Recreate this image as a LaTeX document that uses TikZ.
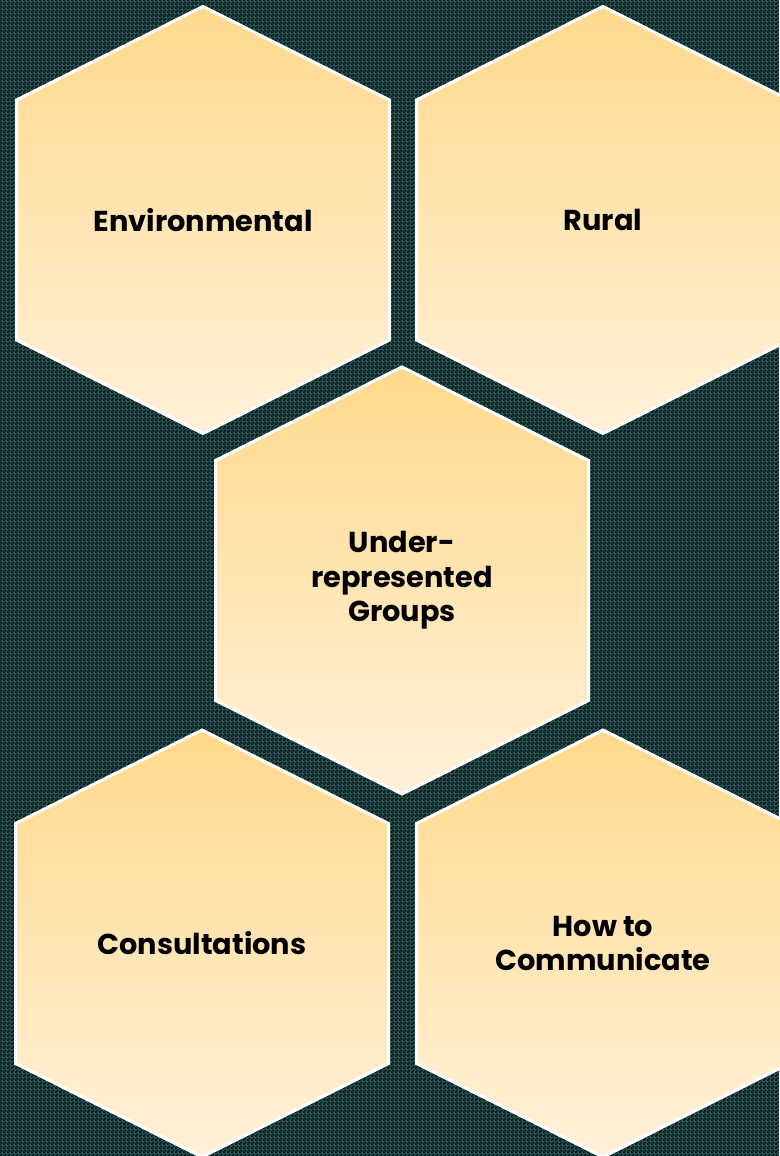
\documentclass[tikz,border=0pt]{standalone}
\usepackage{fontspec}
\setmainfont{Poppins}
\usetikzlibrary{patterns}
\definecolor{bgteal}{RGB}{38,82,82}
\definecolor{hextop}{RGB}{255,217,140}
\definecolor{hexbottom}{RGB}{255,241,218}
\pgfdeclarepatternformonly{finechecker}{\pgfpointorigin}{\pgfqpoint{4pt}{4pt}}{\pgfqpoint{4pt}{4pt}}{
	\pgfpathrectangle{\pgfpointorigin}{\pgfqpoint{2pt}{2pt}}
	\pgfpathrectangle{\pgfqpoint{2pt}{2pt}}{\pgfqpoint{2pt}{2pt}}
	\pgfusepath{fill}
}
\begin{document}
\begin{tikzpicture}[x=1pt,y=-1pt,
		hexbox/.style={draw=white,line width=3pt,top color=hextop,bottom color=hexbottom},
		hexlabel/.style={font=\bfseries\fontsize{28.8}{34.5}\selectfont,align=center,text=black}]
		\fill[bgteal] (0,0) rectangle (779,1156);
		\fill[pattern=finechecker,pattern color=black] (0,0) rectangle (779,1156);
		\useasboundingbox (0,0) rectangle (779,1156);
		\foreach \cx/\cy/\name/\txt in {203/220/env/{Environmental},603/220/rural/{Rural},
			402/580.5/under/{Under-\\represented\\Groups},
			202/943.5/consult/{Consultations},603/943.5/comm/{How to\\Communicate}}{
			\shade[hexbox] (\cx,\cy-213.5) -- ++(186.5,93.5) -- ++(0,240) -- ++(-186.5,93.5)
			-- ++(-186.5,-93.5) -- ++(0,-240) -- cycle;
			\node[hexlabel] (\name) at (\cx,\cy) {\txt};
		}
	\end{tikzpicture}
\end{document}
